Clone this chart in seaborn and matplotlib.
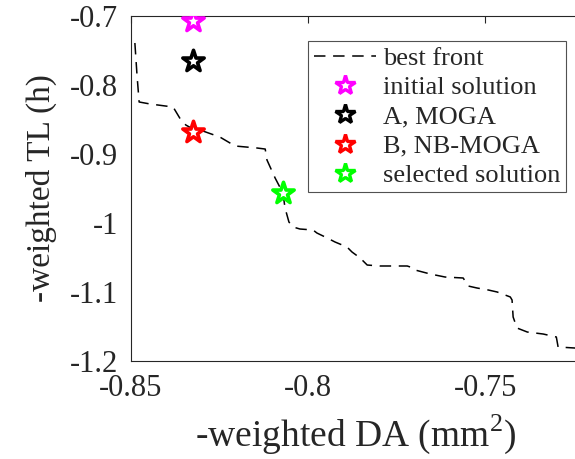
import matplotlib
matplotlib.use("Agg")
import matplotlib.pyplot as plt
from matplotlib.lines import Line2D
import seaborn as sns
import pandas as pd

# Pareto front (weighted DA vs weighted TL)
front_da = [-0.8489, -0.8483, -0.8477, -0.8446, -0.8381, -0.8359, -0.8345, -0.8325,
            -0.8305, -0.8249, -0.8206, -0.8144, -0.8121, -0.8116, -0.8093, -0.8071,
            -0.8065, -0.8054, -0.8042, -0.8023, -0.7986, -0.7975, -0.7946, -0.7924,
            -0.7890, -0.7876, -0.7853, -0.7833, -0.7797, -0.7720, -0.7703, -0.7698,
            -0.7655, -0.7613, -0.7562, -0.7548, -0.7523, -0.7491, -0.7466, -0.7429,
            -0.7424, -0.7421, -0.7410, -0.7381, -0.7336, -0.7299, -0.7294, -0.7246]
front_tl = [-0.7391, -0.7855, -0.8246, -0.8275, -0.8319, -0.8507, -0.8580, -0.8638,
            -0.8652, -0.8754, -0.8884, -0.8913, -0.8928, -0.9087, -0.9348, -0.9565,
            -0.9783, -0.9986, -1.0058, -1.0087, -1.0101, -1.0145, -1.0217, -1.0275,
            -1.0348, -1.0420, -1.0507, -1.0609, -1.0623, -1.0623, -1.0652, -1.0681,
            -1.0739, -1.0783, -1.0797, -1.0913, -1.0942, -1.0971, -1.1000, -1.1072,
            -1.1116, -1.1362, -1.1522, -1.1580, -1.1609, -1.1652, -1.1797, -1.1812]

# Highlighted solutions
sol_names = ["initial solution", "A, MOGA", "B, NB-MOGA", "selected solution"]
sol_da = [-0.8325, -0.8325, -0.8325, -0.8071]
sol_tl = [-0.707, -0.765, -0.868, -0.957]
sol_colors = ["#ff00ff", "#000000", "#ff0000", "#00ff00"]

x_ticks = [-0.85, -0.8, -0.75]
x_tick_labels = ["-0.85", "-0.8", "-0.75"]
y_ticks = [-0.7, -0.8, -0.9, -1.0, -1.1, -1.2]
y_tick_labels = ["-0.7", "-0.8", "-0.9", "-1", "-1.1", "-1.2"]

sns.set_style("white")
plt.rcParams["font.family"] = ["Liberation Serif", "DejaVu Serif"]
plt.rcParams["mathtext.fontset"] = "custom"
plt.rcParams["mathtext.rm"] = "Liberation Serif"

DASH = (0, (7.5, 5))

fig = plt.figure(figsize=(5.75, 4.59), dpi=100)
ax = fig.add_axes([0.2278, 0.2135, 0.781, 0.7516])

front = pd.DataFrame({"da": front_da, "tl": front_tl})
sns.lineplot(data=front, x="da", y="tl", sort=False, estimator=None, ax=ax,
             color="black", linewidth=1.1, linestyle=DASH)

for name, x, y, c in zip(sol_names, sol_da, sol_tl, sol_colors):
    sns.scatterplot(x=[x], y=[y], ax=ax, marker="*", s=260,
                    facecolors="white", edgecolors=c, linewidths=2.6, zorder=5)

ax.set_xlim(-0.85, -0.7232)
ax.set_ylim(-1.2, -0.7)
ax.set_xticks(x_ticks)
ax.set_xticklabels(x_tick_labels)
ax.set_yticks(y_ticks)
ax.set_yticklabels(y_tick_labels)
ax.tick_params(axis="both", direction="in", length=5, width=0.8, labelsize=22,
               colors="#262626", top=True, right=False, pad=9)
for s in ax.spines.values():
    s.set_color("#262626")
    s.set_linewidth(0.8)

ax.set_xlabel(r"-weighted DA (mm$^{\mathrm{2}}$)", fontsize=27)
ax.set_ylabel("-weighted TL (h)", fontsize=24)
ax.xaxis.set_label_coords(0.5, -0.15)
ax.yaxis.label.set_verticalalignment("bottom")
ax.yaxis.set_label_coords(-0.165, 0.5)

handles = [Line2D([], [], color="black", linewidth=1.1, linestyle=DASH)]
for c in sol_colors:
    handles.append(Line2D([], [], linestyle="none", marker="*", markersize=15,
                          markerfacecolor="white", markeredgecolor=c,
                          markeredgewidth=2.4))
labels = ["best front"] + sol_names
leg = ax.legend(handles, labels, loc="upper left", bbox_to_anchor=(0.395, 0.927),
                fontsize=19, frameon=True, fancybox=False, edgecolor="#262626",
                handlelength=2.35, handletextpad=0.28, labelspacing=0.22,
                borderpad=0.2, borderaxespad=0)
leg.get_frame().set_linewidth(0.8)

fig.savefig("out.png", dpi=100)
